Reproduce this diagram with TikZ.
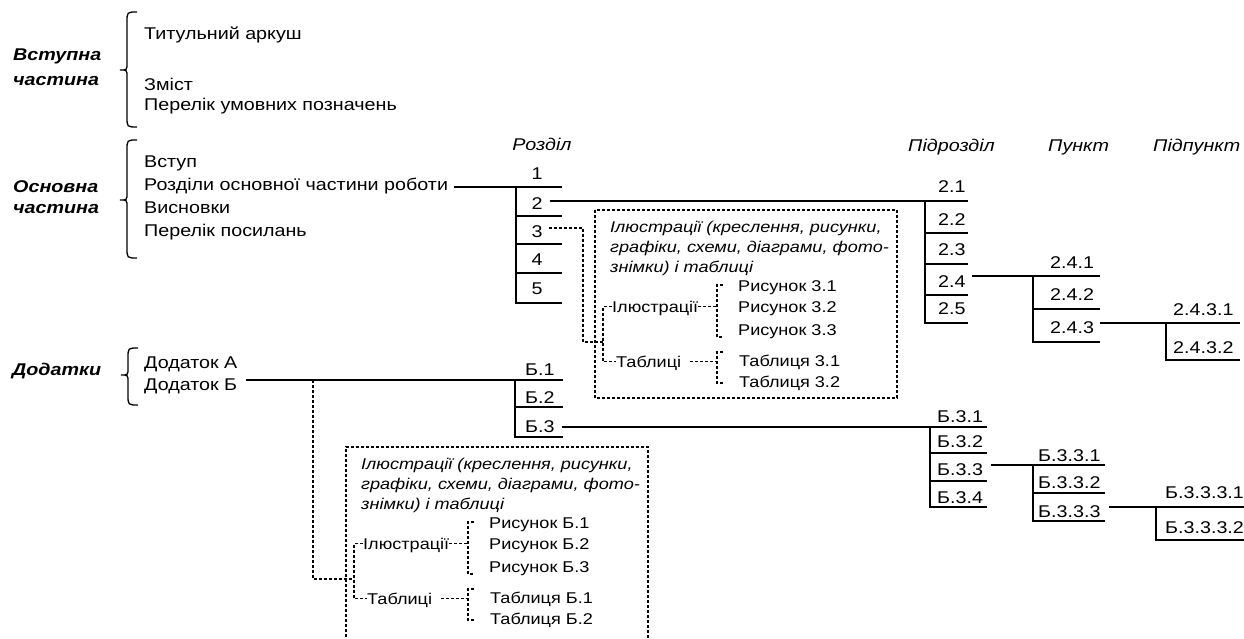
\documentclass[tikz,border=0pt]{standalone}
\usepackage{fontspec}
\setmainfont[FakeStretch=1.16]{Liberation Sans}
\usetikzlibrary{calc}
\newcommand\mybrace[4]{%
 \draw[brc] (#1,#2) .. controls (#1-10,#2) .. (#1-10,#2+10) -- (#1-10,#4-7)
   .. controls (#1-10,#4) .. (#1-17,#4) .. controls (#1-10,#4) .. (#1-10,#4+7)
   -- (#1-10,#3-10) .. controls (#1-10,#3) .. (#1,#3);}
\newcommand\illcontent[2]{%
 \node[bitx] (#1l1) at (610,232) {Ілюстрації (креслення, рисунки,};
 \node[bitx] (#1l2) at (610,252) {графіки, схеми, діаграми, фото-};
 \node[bitx] (#1l3) at (610,272) {знімки) і таблиці};
 \node[btx] (#1ill) at (612,312) {Ілюстрації};
 \node[btx] (#1tab) at (616,367) {Таблиці};
 \node[btx] (#1r1) at (738,291) {Рисунок #2.1};
 \node[btx] (#1r2) at (738,312) {Рисунок #2.2};
 \node[btx] (#1r3) at (738,335) {Рисунок #2.3};
 \node[btx] (#1t1) at (739,366) {Таблиця #2.1};
 \node[btx] (#1t2) at (739,387) {Таблиця #2.2};
 \coordinate (#1iv) at (603,342);
 \coordinate (#1rv) at (717,300);
 \draw[dsh] (#1ill.west) -- (#1ill.west -| #1iv) -- (#1tab.west -| #1iv) -- (#1tab.west);
 \draw[dsh] (#1ill.east) -- (#1ill.east -| #1rv);
 \draw[dsh] ($(#1tab.east)+(9,0)$) -- (#1tab.east -| #1rv);
 \draw[dsh] (723,285) -- (717,285) -- (717,337) -- (723,337);
 \draw[dsh] (723,352) -- (717,352) -- (717,383) -- (723,383);}
\begin{document}
\begin{tikzpicture}[x=1pt,y=-1pt,
  txt/.style={inner sep=0pt, text height=12pt, text depth=0pt, anchor=base west,
    font=\fontsize{17}{21}\selectfont},
  itx/.style={txt, font=\fontsize{17}{21}\selectfont\itshape},
  btx/.style={txt, text height=11pt, font=\fontsize{15.6}{20}\selectfont},
  bitx/.style={btx, font=\fontsize{15.6}{20}\selectfont\itshape},
  lbl/.style={txt, font=\fontsize{17}{21}\selectfont\bfseries\itshape},
  num/.style={txt, anchor=base},
  ln/.style={line width=1.6pt},
  dsh/.style={line width=1.4pt, dash pattern=on 3pt off 2pt},
  brc/.style={line width=1.3pt}]
\useasboundingbox (0,0) rectangle (1244,639);
% left labels
\node[lbl] (v1) at (13,61) {Вступна};
\node[lbl] (v2) at (13,86) {частина};
\node[lbl] (o1) at (13,193) {Основна};
\node[lbl] (o2) at (13,214) {частина};
\node[lbl] (dd) at (12,375) {Додатки};
% braces
\mybrace{137}{12}{127}{70}
\mybrace{137}{140}{258}{200}
\mybrace{138}{348}{405}{375}
% left column
\node[txt] (tit) at (144,40) {Титульний аркуш};
\node[txt] (zm) at (144,91) {Зміст};
\node[txt] (pu) at (144,111) {Перелік умовних позначень};
\node[txt] (vs) at (144,168) {Вступ};
\node[txt] (rozd) at (144,190) {Розділи основної частини роботи};
\node[txt] (vy) at (144,213) {Висновки};
\node[txt] (pp) at (144,236) {Перелік посилань};
\node[txt] (dA) at (144,368) {Додаток А};
\node[txt] (dB) at (144,390) {Додаток Б};
% headers
\node[itx, anchor=base] (h1) at (542,151) {Розділ};
\node[itx] (h2) at (908,152) {Підрозділ};
\node[itx] (h3) at (1048,152) {Пункт};
\node[itx] (h4) at (1153,152) {Підпункт};
% level A: sections
\coordinate (a1) at (516,187); \coordinate (a1r) at (562,187);
\node[num] (s1) at (537,179) {1};
\node[num] (s2) at (537,209) {2};
\node[num] (s3) at (537,237) {3};
\node[num] (s4) at (537,265) {4};
\node[num] (s5) at (537,294) {5};
\draw[ln] ($(rozd.east|-a1)+(6,0)$) -- (a1r);
\draw[ln] (a1) -- (516,303) -- (562,303);
\foreach \y in {216,244,273} \draw[ln] (516,\y) -- (562,\y);
% level B: subsections
\coordinate (b1) at (925,201); \coordinate (b1r) at (968,201);
\node[txt] (p1) at (938,193) {2.1};
\node[txt] (p2) at (938,225) {2.2};
\node[txt] (p3) at (938,255) {2.3};
\node[txt] (p4) at (938,287) {2.4};
\node[txt] (p5) at (938,314) {2.5};
\draw[ln] ($(s2.east|-b1)+(7,0)$) -- (b1r);
\draw[ln] (b1) -- (925,323) -- (968,323);
\foreach \y in {233,264,295} \draw[ln] (925,\y) -- (968,\y);
% level C
\coordinate (c1) at (1033,276); \coordinate (c1r) at (1100,276);
\node[txt] (q1) at (1050,268) {2.4.1};
\node[txt] (q2) at (1050,300) {2.4.2};
\node[txt] (q3) at (1050,333) {2.4.3};
\draw[ln] ($(p4.east|-c1)+(6,0)$) -- (c1r);
\draw[ln] (c1) -- (1033,342) -- (1100,342);
\draw[ln] (1033,309) -- (1100,309);
% level D
\coordinate (d1) at (1166,323); \coordinate (d1r) at (1240,323);
\node[txt] (w1) at (1173,315) {2.4.3.1};
\node[txt] (w2) at (1173,353) {2.4.3.2};
\draw[ln] ($(q3.east|-d1)+(6,0)$) -- (d1r);
\draw[ln] (d1) -- (1166,360) -- (1240,360);
% annex level E
\coordinate (e1) at (515,380); \coordinate (e1r) at (563,380);
\node[txt] (b1n) at (525,375) {Б.1};
\node[txt] (b2n) at (525,403) {Б.2};
\node[txt] (b3n) at (525,432) {Б.3};
\draw[ln] ($(dB.east|-e1)+(9,0)$) -- (e1r);
\draw[ln] (e1) -- (515,437) -- (563,437);
\draw[ln] (515,407) -- (563,407);
% level F
\coordinate (f1) at (930,427); \coordinate (f1r) at (987,427);
\node[txt] (f1n) at (937,422) {Б.3.1};
\node[txt] (f2n) at (937,447) {Б.3.2};
\node[txt] (f3n) at (937,475) {Б.3.3};
\node[txt] (f4n) at (937,503) {Б.3.4};
\draw[ln] ($(b3n.east|-f1)+(7,0)$) -- (f1r);
\draw[ln] (f1) -- (930,507) -- (987,507);
\foreach \y in {453,481} \draw[ln] (930,\y) -- (987,\y);
% level G
\coordinate (g1) at (1033,465); \coordinate (g1r) at (1105,465);
\node[txt] (g1n) at (1038,461) {Б.3.3.1};
\node[txt] (g2n) at (1038,488) {Б.3.3.2};
\node[txt] (g3n) at (1038,517) {Б.3.3.3};
\draw[ln] ($(f3n.east|-g1)+(8,0)$) -- (g1r);
\draw[ln] (g1) -- (1033,521) -- (1105,521);
\draw[ln] (1033,493) -- (1105,493);
% level H
\coordinate (k1) at (1156,507); \coordinate (k1r) at (1244,507);
\node[txt] (k1n) at (1165,498) {Б.3.3.3.1};
\node[txt] (k2n) at (1165,533) {Б.3.3.3.2};
\draw[ln] ($(g3n.east|-k1)+(8,0)$) -- (k1r);
\draw[ln] (k1) -- (1156,540) -- (1244,540);
% illustration box 1
\draw[dsh] (595,210) rectangle (897,398);
\illcontent{a}{3}
\coordinate (k3) at (583,228);
\draw[dsh] ($(s3.east|-k3)+(6,0)$) -- (k3) |- (aiv);
% illustration box 2
\begin{scope}[shift={(-249,237)}]
\draw[dsh] (595,420) -- (595,210) -- (897,210) -- (897,420);
\illcontent{b}{Б}
\end{scope}
\coordinate (k4) at (313,380);
\draw[dsh] (k4) |- (biv);
\end{tikzpicture}
\end{document}
